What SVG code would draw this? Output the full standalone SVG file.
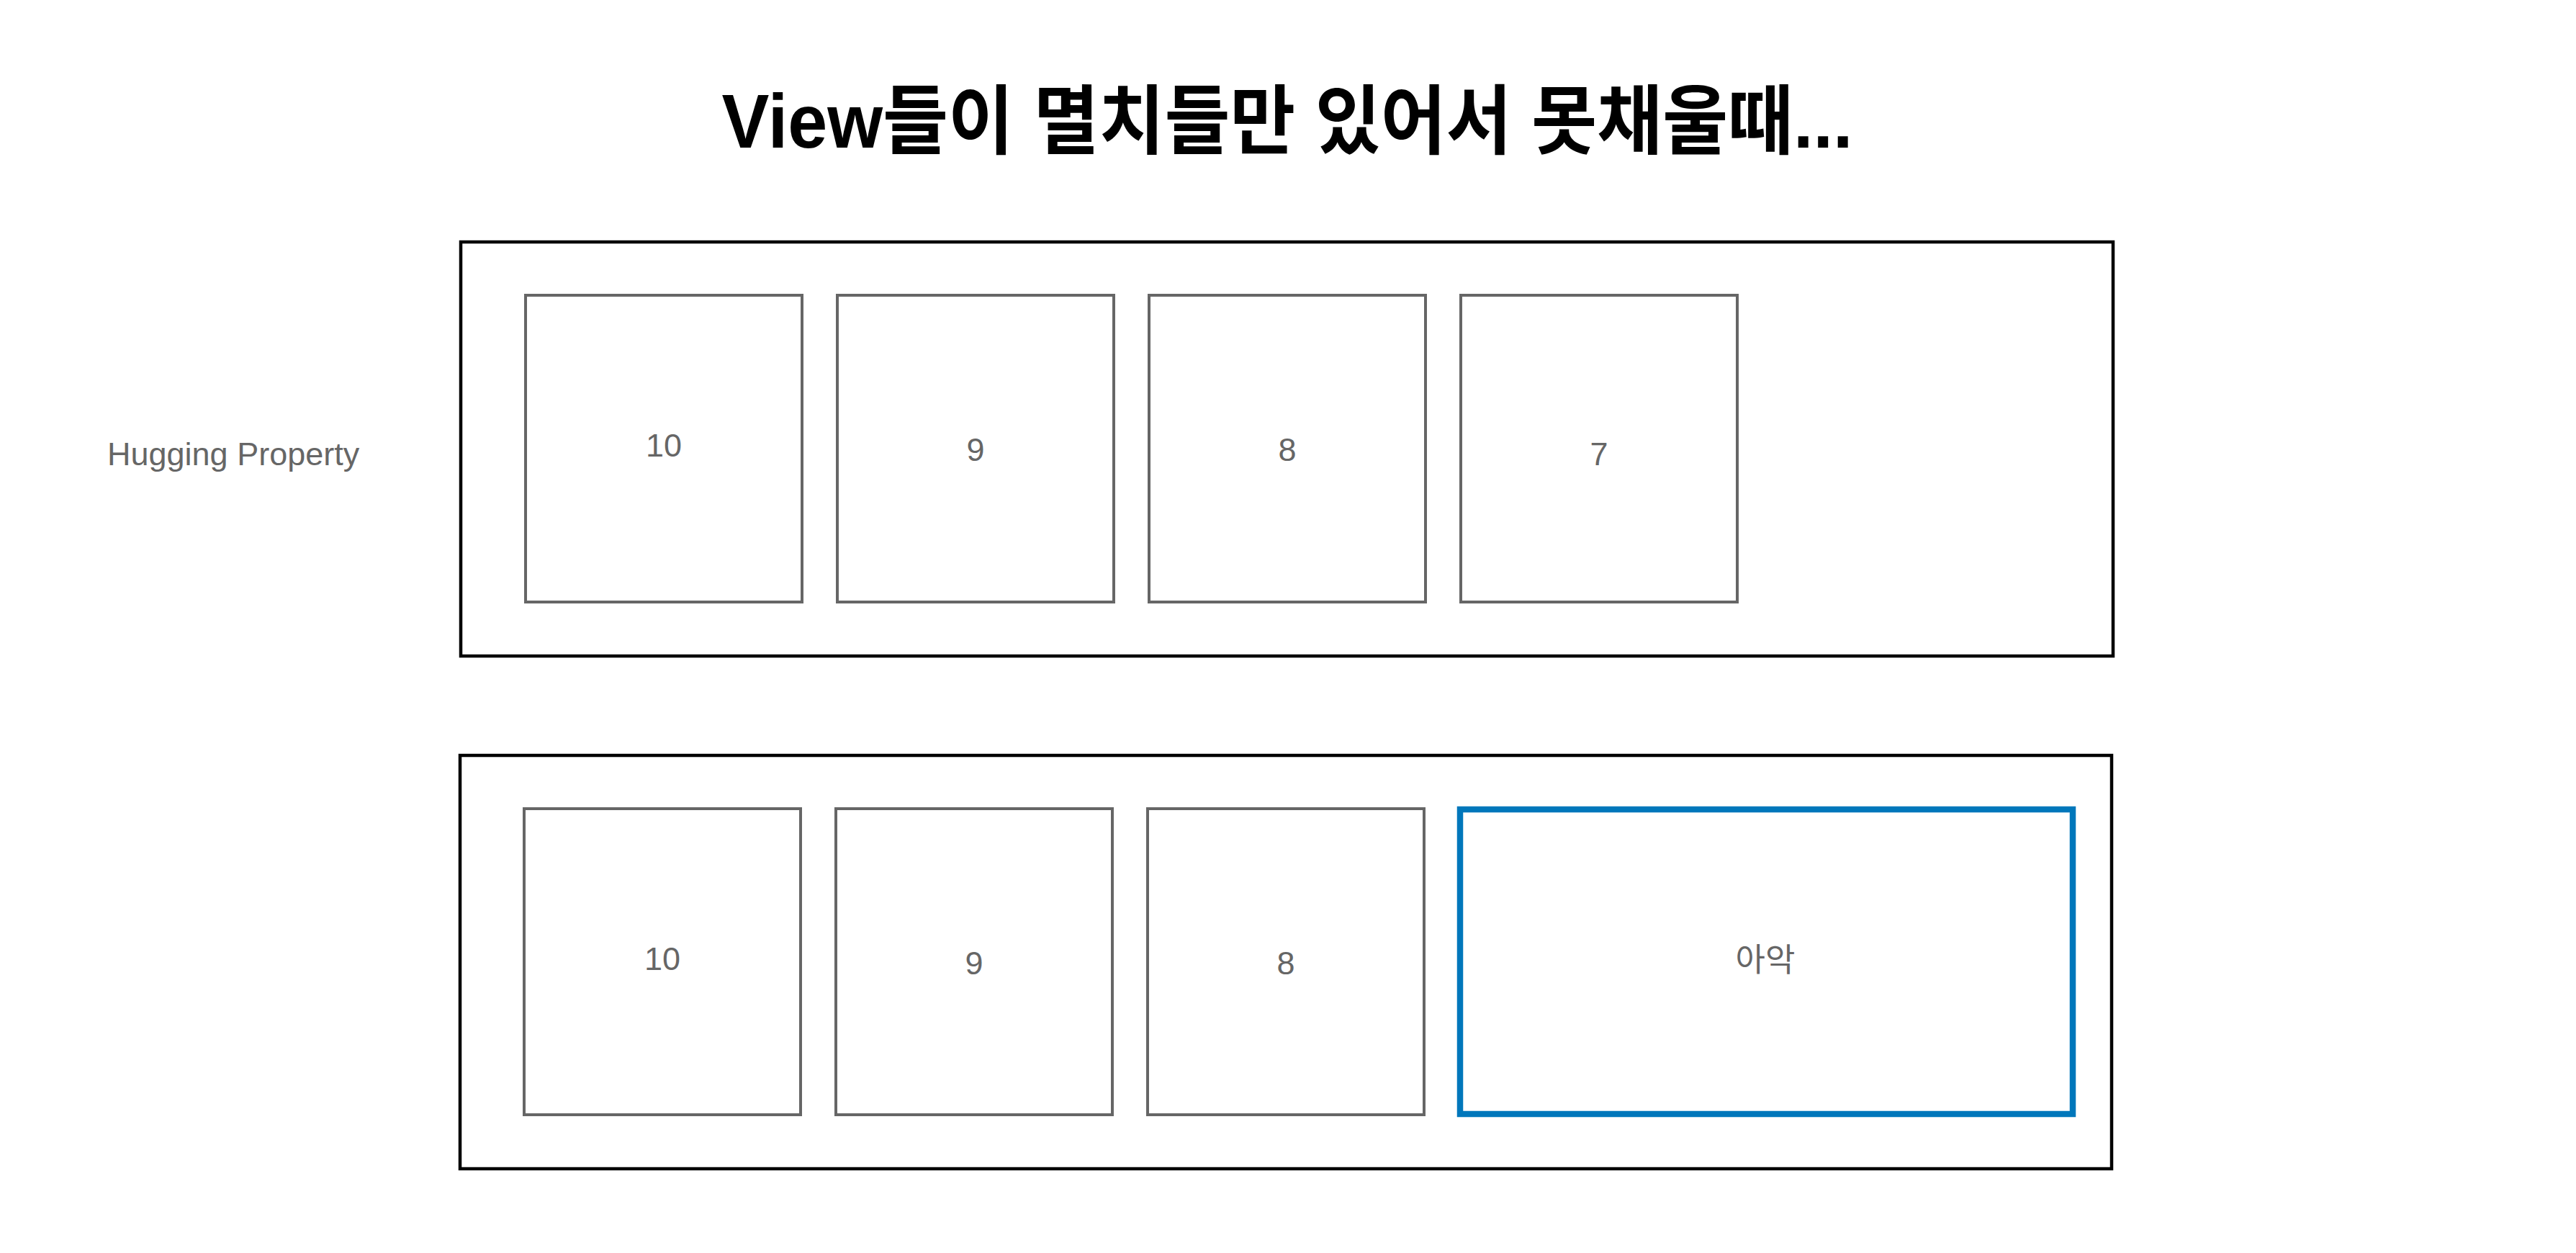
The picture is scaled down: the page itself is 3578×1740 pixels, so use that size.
<svg xmlns="http://www.w3.org/2000/svg" width="3578" height="1740" viewBox="0 0 3578 1740">
  <style>
    .outer { fill: #ffffff; stroke: #000000; stroke-width: 4.5; }
    .item { fill: #ffffff; stroke: #666666; stroke-width: 4; }
    .hl { fill: #ffffff; stroke: #0077BB; stroke-width: 8.5; }
    .lbl { font-family: "Liberation Sans", Arial, "Noto Sans CJK KR", sans-serif; font-size: 45px; fill: #666666; text-anchor: middle; }
    .title { font-family: "Liberation Sans", Arial, "Noto Sans CJK KR", sans-serif; font-size: 105px; font-weight: bold; fill: #000000; text-anchor: middle; }
  </style>
  <rect width="3578" height="1740" fill="#ffffff"/>

  <g id="title">
    <text class="title" x="1788" y="205" textLength="1571" lengthAdjust="spacingAndGlyphs">View들이 멸치들만 있어서 못채울때...</text>
  </g>

  <g id="hugging-label">
    <text class="lbl" x="149" y="646" style="text-anchor:start">Hugging Property</text>
  </g>

  <g id="top-container">
    <rect class="outer" x="640" y="336" width="2295" height="575"/>
  </g>
  <g id="top-10">
    <rect class="item" x="730" y="410" width="384" height="426"/>
    <text class="lbl" x="922" y="634">10</text>
  </g>
  <g id="top-9">
    <rect class="item" x="1163" y="410" width="384" height="426"/>
    <text class="lbl" x="1355" y="640">9</text>
  </g>
  <g id="top-8">
    <rect class="item" x="1596" y="410" width="384" height="426"/>
    <text class="lbl" x="1788" y="640">8</text>
  </g>
  <g id="top-7">
    <rect class="item" x="2029" y="410" width="384" height="426"/>
    <text class="lbl" x="2221" y="646">7</text>
  </g>

  <g id="bottom-container">
    <rect class="outer" x="639" y="1049" width="2294" height="574"/>
  </g>
  <g id="bottom-10">
    <rect class="item" x="728" y="1123" width="384" height="425"/>
    <text class="lbl" x="920" y="1347">10</text>
  </g>
  <g id="bottom-9">
    <rect class="item" x="1161" y="1123" width="384" height="425"/>
    <text class="lbl" x="1353" y="1353">9</text>
  </g>
  <g id="bottom-8">
    <rect class="item" x="1594" y="1123" width="384" height="425"/>
    <text class="lbl" x="1786" y="1353">8</text>
  </g>
  <g id="bottom-aak">
    <rect class="hl" x="2028" y="1124" width="851" height="423"/>
    <text class="lbl" x="2452" y="1349">아악</text>
  </g>

  <g id="connectors"/>
</svg>
